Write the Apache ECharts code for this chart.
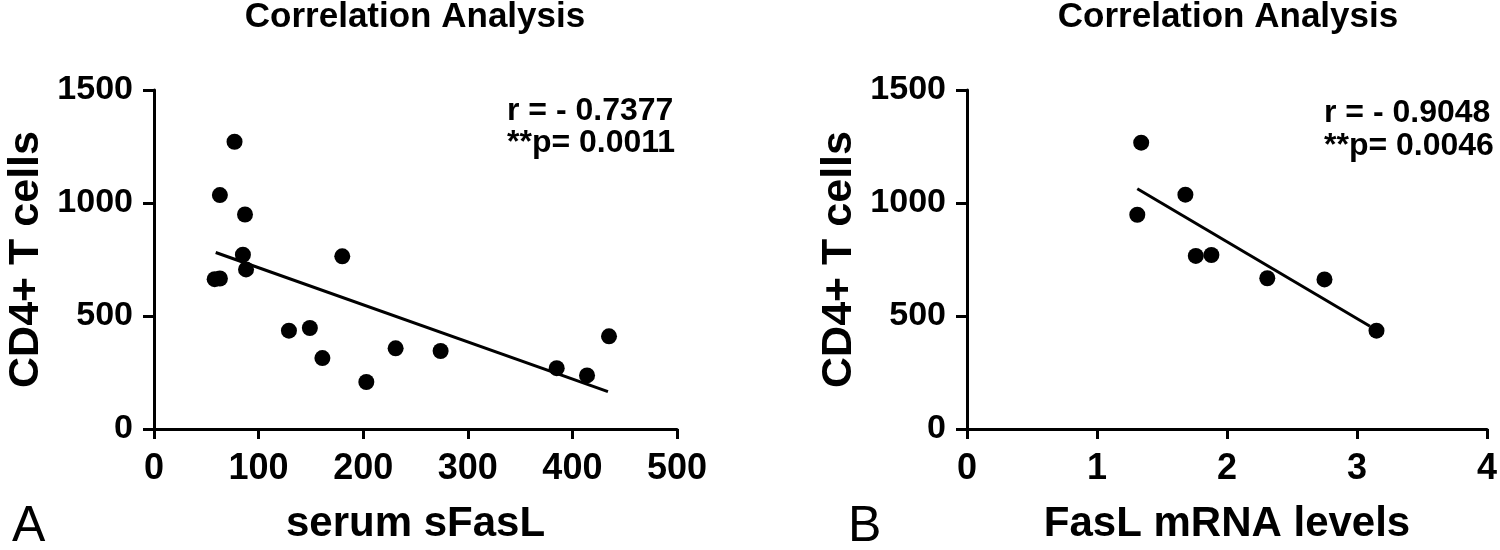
<!DOCTYPE html>
<html>
<head>
<meta charset="utf-8">
<script src="https://cdn.jsdelivr.net/npm/echarts@6/dist/echarts.min.js"></script>
<style>
html,body{margin:0;padding:0;background:#fff;}
#chart{width:1500px;height:550px;}
</style>
</head>
<body>
<div id="chart"></div>
<script>
// Panel A: serum sFasL vs CD4+ T cells
const serumSFasL = [77, 63, 87, 85, 88, 58, 63, 180, 129, 149, 161, 203, 231, 274, 385, 414, 435];
const cd4A       = [1271, 1035, 949, 771, 706, 663, 666, 764, 435, 447, 314, 208, 357, 345, 269, 237, 410];
const fitAX = [59, 434];
const fitAY = [781, 165];

// Panel B: FasL mRNA levels vs CD4+ T cells
const fasLmRNA = [1.34, 1.68, 1.31, 1.76, 1.88, 2.31, 2.75, 3.15];
const cd4B     = [1267, 1037, 948, 766, 770, 667, 662, 435];
const fitBX = [1.31, 3.10];
const fitBY = [1063, 455];

const titleText = 'Correlation Analysis';
const yName = 'CD4+ T cells';
const xNameA = 'serum sFasL';
const xNameB = 'FasL mRNA levels';
const statsA = ['r = - 0.7377', '**p= 0.0011'];
const statsB = ['r = - 0.9048', '**p= 0.0046'];
const panelLabels = ['A', 'B'];

const FONT = "'Liberation Sans', Arial, Helvetica, sans-serif";
const zip = (xs, ys) => xs.map((x, i) => [x, ys[i]]);
const plain = v => String(v);

function makeX(gridIndex, max, interval, name) {
  return {
    type: 'value', gridIndex, min: 0, max, interval,
    name, nameLocation: 'middle', nameGap: 74,
    nameTextStyle: {fontFamily: FONT, fontWeight: 'bold', fontSize: 42, color: '#000'},
    axisLine: {show: true, onZero: false, lineStyle: {color: '#000', width: 3}},
    axisTick: {show: true, length: 10, lineStyle: {color: '#000', width: 3}},
    axisLabel: {fontFamily: FONT, fontWeight: 'bold', fontSize: 36, color: '#000', margin: 22, formatter: plain},
    splitLine: {show: false}
  };
}
function makeY(gridIndex) {
  return {
    type: 'value', gridIndex, min: 0, max: 1500, interval: 500,
    name: yName, nameLocation: 'middle', nameGap: 106, nameRotate: 90,
    nameTextStyle: {fontFamily: FONT, fontWeight: 'bold', fontSize: 43, color: '#000'},
    axisLine: {show: true, onZero: false, lineStyle: {color: '#000', width: 3}},
    axisTick: {show: true, length: 11, lineStyle: {color: '#000', width: 3}},
    axisLabel: {fontFamily: FONT, fontWeight: 'bold', fontSize: 34, color: '#000', margin: 21, formatter: plain},
    splitLine: {show: false}
  };
}

function txt(text, x, y, size, weight, align) {
  return {
    type: 'text', x, y, silent: true,
    style: {text, fill: '#000', fontFamily: FONT, fontSize: size, fontWeight: weight,
            textAlign: align, textVerticalAlign: 'middle'}
  };
}

const chart = echarts.init(document.getElementById('chart'), null, {renderer: 'canvas'});
chart.setOption({
  animation: false,
  backgroundColor: '#fff',
  grid: [
    {left: 154, top: 90, width: 523, height: 347},
    {left: 967, top: 90, width: 524, height: 347}
  ],
  xAxis: [makeX(0, 500, 100, xNameA), makeX(1, 4, 1, xNameB)],
  yAxis: [makeY(0), makeY(1)],
  graphic: [
    txt(titleText, 415, 17, 35, 'bold', 'center'),
    txt(titleText, 1228, 17, 35, 'bold', 'center'),
    txt(statsA[0], 507, 111, 32, 'bold', 'left'),
    txt(statsA[1], 507, 143, 32, 'bold', 'left'),
    txt(statsB[0], 1324, 113, 32, 'bold', 'left'),
    txt(statsB[1], 1324, 146, 32, 'bold', 'left'),
    txt(panelLabels[0], 12, 527, 50, 'normal', 'left'),
    txt(panelLabels[1], 848, 527, 50, 'normal', 'left')
  ],
  series: [
    {type: 'scatter', xAxisIndex: 0, yAxisIndex: 0, data: zip(serumSFasL, cd4A),
     symbol: 'circle', symbolSize: 16, itemStyle: {color: '#000', opacity: 1}},
    {type: 'line', xAxisIndex: 0, yAxisIndex: 0, data: zip(fitAX, fitAY),
     symbol: 'none', lineStyle: {color: '#000', width: 3}},
    {type: 'scatter', xAxisIndex: 1, yAxisIndex: 1, data: zip(fasLmRNA, cd4B),
     symbol: 'circle', symbolSize: 16, itemStyle: {color: '#000', opacity: 1}},
    {type: 'line', xAxisIndex: 1, yAxisIndex: 1, data: zip(fitBX, fitBY),
     symbol: 'none', lineStyle: {color: '#000', width: 3}}
  ]
});
</script>
</body>
</html>
